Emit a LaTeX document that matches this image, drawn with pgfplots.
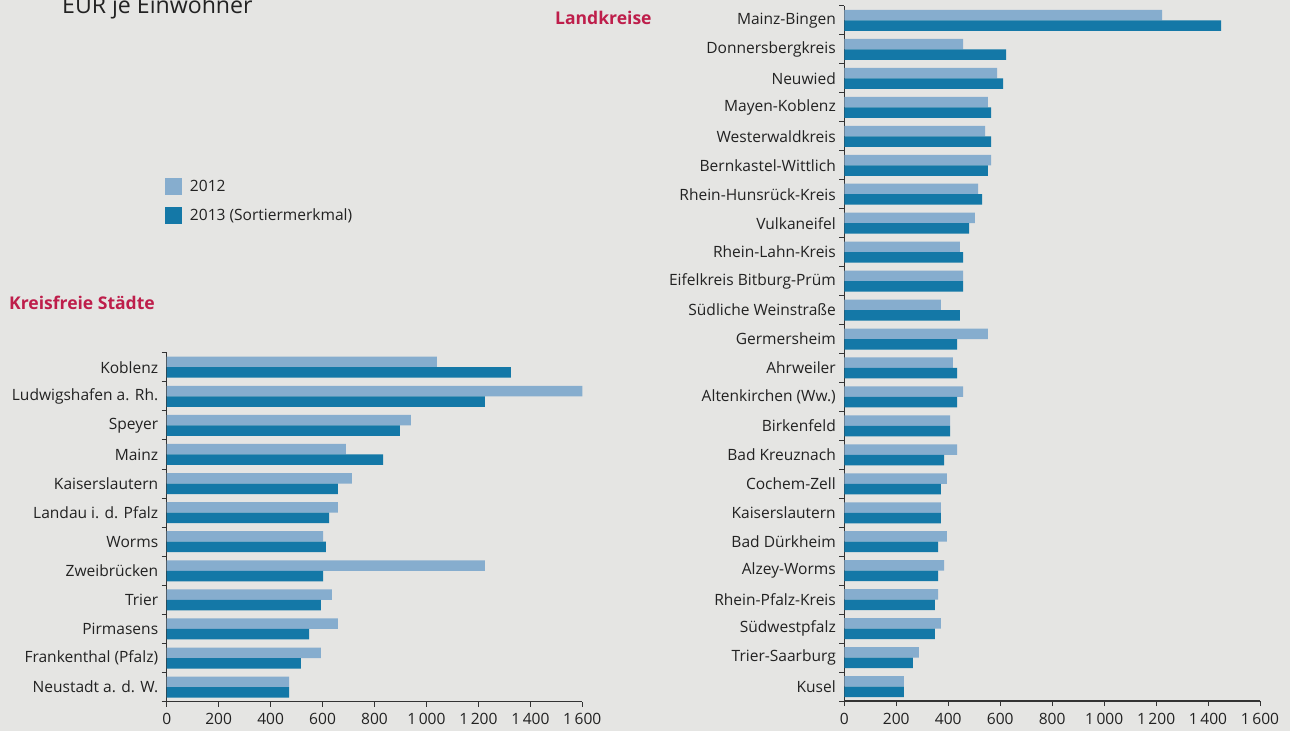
\documentclass[border=0pt]{standalone}
\usepackage{fontspec}
\setmainfont{Open Sans}
\usepackage{pgfplots}
\pgfplotsset{compat=1.18}

\definecolor{bg}{HTML}{E5E5E3}
\definecolor{c12}{HTML}{86ADCE}
\definecolor{c13}{HTML}{1478A7}
\definecolor{hd}{HTML}{BE1E4B}
\definecolor{tx}{HTML}{222222}
\definecolor{ax}{HTML}{333333}

\newcommand\lbl{\fontsize{15.6}{18}\selectfont}

\pgfplotsset{
  hbars/.style={
    xbar, bar width=10.5bp, scale only axis,
    xmin=0, xmax=1600, xtick={0,200,...,1600},
    axis x line*=bottom, axis y line*=left,
    axis line style={ax, line width=1.2bp},
    tick align=outside,
    major tick length=5bp, minor tick length=5bp,
    major x tick style={ax, line width=1bp},
    major y tick style={draw=none},
    minor y tick style={ax, line width=1bp},
    ticklabel style={font=\lbl, text=tx},
    xticklabel style={yshift=-3.5bp},
    /pgf/number format/assume math mode=true,
    /pgf/number format/1000 sep={\,},
  },
}

\begin{document}
\begin{tikzpicture}
\fill[bg] (0bp,0bp) rectangle (1290bp,731bp);
\useasboundingbox (0bp,0bp) rectangle (1290bp,731bp);
\clip (0bp,0bp) rectangle (1290bp,731bp);

% Kreisfreie Staedte
\begin{axis}[hbars,
  anchor=south west, at={(166.7bp,29.3bp)},
  width=415.6bp, height=349bp,
  ymin=-0.5, ymax=11.5,
  ytick={0,...,11},
  minor ytick={-0.5,0.5,...,11.5},
  yticklabels={Neustadt a. d. W., Frankenthal (Pfalz), Pirmasens, Trier,
    Zweibrücken, Worms, Landau i. d. Pfalz, Kaiserslautern, Mainz, Speyer,
    Ludwigshafen a. Rh., Koblenz},
  legend style={at={(-0.0041,1.5006)}, anchor=north west, draw=none,
    fill=none, inner sep=0pt, outer sep=0pt, row sep=12bp, column sep=6bp,
    font=\lbl, text=tx, cells={anchor=west}},
  legend cell align=left,
]
\addplot[fill=c12, draw=none, bar shift=5.25bp,
  legend image code/.code={\fill[c12] (0bp,-8.5bp) rectangle (17bp,8.5bp);}]
  coordinates {
  (471,0) (594,1) (659,2) (636,3) (1225,4) (602,5)
  (659,6) (713,7) (690,8) (940,9) (1600,10) (1040,11)
};
\addlegendentry{2012}
\addplot[fill=c13, draw=none, bar shift=-5.25bp,
  legend image code/.code={\fill[c13] (0bp,-8.5bp) rectangle (17bp,8.5bp);}]
  coordinates {
  (471,0) (517,1) (548,2) (594,3) (602,4) (613,5)
  (625,6) (659,7) (833,8) (898,9) (1225,10) (1325,11)
};
\addlegendentry{2013 (Sortiermerkmal)}
\end{axis}

% Landkreise
\begin{axis}[hbars,
  anchor=south west, at={(844.3bp,30bp)},
  width=415.7bp, height=695bp,
  ymin=-0.5, ymax=23.5,
  ytick={0,...,23},
  minor ytick={-0.5,0.5,...,23.5},
  yticklabels={Kusel, Trier-Saarburg, Südwestpfalz, Rhein-Pfalz-Kreis,
    Alzey-Worms, Bad Dürkheim, Kaiserslautern, Cochem-Zell, Bad Kreuznach,
    Birkenfeld, Altenkirchen (Ww.), Ahrweiler, Germersheim,
    Südliche Weinstraße, Eifelkreis Bitburg-Prüm, Rhein-Lahn-Kreis,
    Vulkaneifel, Rhein-Hunsrück-Kreis, Bernkastel-Wittlich, Westerwaldkreis,
    Mayen-Koblenz, Neuwied, Donnersbergkreis, Mainz-Bingen},
]
\addplot[fill=c12, draw=none, bar shift=5.25bp] coordinates {
  (229,0) (287,1) (372,2) (361,3) (384,4) (395,5) (372,6) (395,7)
  (434,8) (407,9) (457,10) (418,11) (553,12) (372,13) (457,14) (445,15)
  (503,16) (515,17) (565,18) (542,19) (553,20) (588,21) (457,22) (1223,23)
};
\addplot[fill=c13, draw=none, bar shift=-5.25bp] coordinates {
  (229,0) (264,1) (349,2) (349,3) (361,4) (361,5) (372,6) (372,7)
  (384,8) (407,9) (434,10) (434,11) (434,12) (445,13) (457,14) (457,15)
  (480,16) (530,17) (553,18) (565,19) (565,20) (611,21) (623,22) (1450,23)
};
\end{axis}

\node[anchor=west, inner sep=0pt, font=\fontsize{17.6}{20}\selectfont\bfseries, text=hd] at (9bp,428bp) {Kreisfreie Städte};
\node[anchor=west, inner sep=0pt, font=\fontsize{17.6}{20}\selectfont\bfseries, text=hd] at (555bp,713bp) {Landkreise};
\node[anchor=base west, inner sep=0pt, font=\fontsize{23.2}{27}\selectfont, text=tx] at (62bp,717bp) {EUR je Einwohner};
\end{tikzpicture}
\end{document}
